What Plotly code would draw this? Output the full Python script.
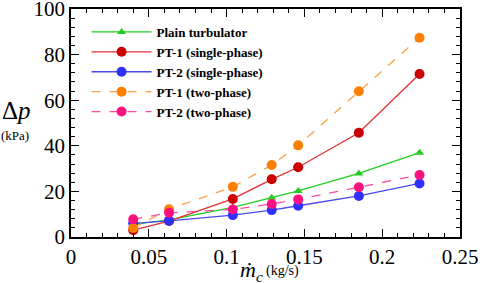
import plotly.graph_objects as go

mass_flow = [0.040, 0.063, 0.104, 0.129, 0.146, 0.185, 0.224]
plain = [5.5, 7.5, 13.0, 17.2, 20.2, 27.9, 37.0]
pt1_single = [3.0, 7.0, 16.7, 25.3, 30.6, 45.7, 71.5]
pt2_single = [6.0, 7.1, 9.6, 11.8, 13.7, 18.0, 23.5]
pt1_two = [3.9, 12.2, 22.0, 31.6, 40.2, 63.9, 87.4]
pt2_two = [7.8, 10.6, 12.1, 14.5, 16.5, 21.8, 27.2]

x_tickvals = [0, 0.05, 0.1, 0.15, 0.2, 0.25]
x_ticktext = ["0", "0.05", "0.1", "0.15", "0.2", "0.25"]

SERIF = "Liberation Serif, Times New Roman, serif"

series = [
    ("Plain turbulator", plain, "#22cc22", "#22cc22", "solid", "triangle-up", 8),
    ("PT-1 (single-phase)", pt1_single, "#e03030", "#cc0000", "solid", "circle", 10),
    ("PT-2 (single-phase)", pt2_single, "#4a4aee", "#3030ff", "solid", "circle", 10),
    ("PT-1 (two-phase)", pt1_two, "#ffa040", "#ff8000", "dash", "circle", 10),
    ("PT-2 (two-phase)", pt2_two, "#ff4aa0", "#ff1080", "dash", "circle", 10),
]

fig = go.Figure()
for name, ys, lc, mc, dash, sym, ms in series:
    fig.add_trace(go.Scatter(
        x=mass_flow, y=ys, name=name, mode="lines+markers",
        line=dict(color=lc, width=1.3, dash=dash),
        marker=dict(color=mc, symbol=sym, size=ms),
    ))

axis_common = dict(
    showline=True, linecolor="black", linewidth=1.5, mirror="ticks",
    ticks="inside", ticklen=8, tickwidth=1.2, tickcolor="black",
    showgrid=False, zeroline=False, automargin=False, ticklabeloverflow="allow",
    tickfont=dict(family=SERIF, size=21, color="black"),
)
fig.update_xaxes(range=[0, 0.25], tickvals=x_tickvals, ticktext=x_ticktext,
                 minor=dict(dtick=0.01, ticks="inside", ticklen=4, tickcolor="black", tickwidth=1),
                 **axis_common)
fig.update_yaxes(range=[0, 100], dtick=20,
                 minor=dict(dtick=4, ticks="inside", ticklen=4, tickcolor="black", tickwidth=1),
                 **axis_common)

fig.add_annotation(x=-0.141, y=0.555, xref="paper", yref="paper", text="Δ<i>p</i>",
                   showarrow=False, xanchor="center", yanchor="middle",
                   font=dict(family=SERIF, size=25, color="black"))
fig.add_annotation(x=-0.143, y=0.447, xref="paper", yref="paper", text="(kPa)",
                   showarrow=False, xanchor="center", yanchor="middle",
                   font=dict(family=SERIF, size=13, color="black"))
fig.add_annotation(x=0.499, y=-0.078, xref="paper", yref="paper", text="<i>ṁ<sub>c</sub></i>",
                   showarrow=False, xanchor="right", yanchor="top",
                   font=dict(family=SERIF, size=22, color="black"))
fig.add_annotation(x=0.495, y=-0.105, xref="paper", yref="paper", text="(kg/s)",
                   showarrow=False, xanchor="left", yanchor="top",
                   font=dict(family=SERIF, size=14, color="black"))

fig.update_layout(
    width=480, height=283,
    margin=dict(l=71, r=20, t=9, b=46, autoexpand=False),
    paper_bgcolor="white", plot_bgcolor="white",
    showlegend=True,
    legend=dict(x=0.04, y=0.965, xanchor="left", yanchor="top",
                bgcolor="rgba(0,0,0,0)", itemwidth=60, tracegroupgap=0,
                font=dict(family=SERIF, size=13, color="black", weight="bold")),
)
fig.write_html("out.html", config={"displayModeBar": False},
               post_script="document.body.style.margin='0';document.body.style.padding='0';")
